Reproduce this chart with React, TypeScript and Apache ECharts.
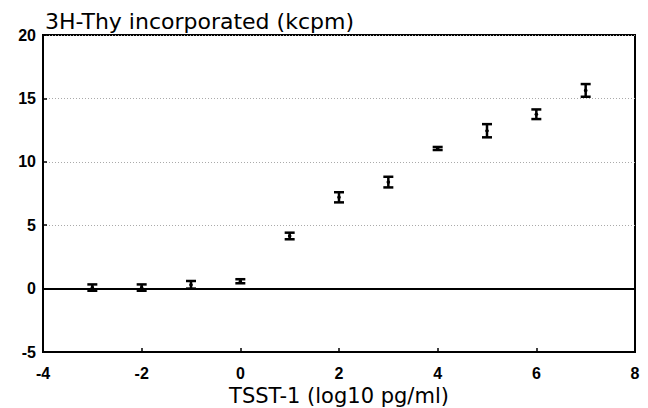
import React, { useEffect, useRef } from "react";
import * as echarts from "echarts";

// log10 TSST-1 dose (pg/ml)
const doses = [-3, -2, -1, 0, 1, 2, 3, 4, 5, 6, 7];
// mean 3H-Thy incorporated (kcpm)
const means = [0.08, 0.08, 0.3, 0.58, 4.15, 7.2, 8.4, 11.05, 12.45, 13.75, 15.63];
// error (± kcpm)
const errors = [0.25, 0.25, 0.3, 0.16, 0.26, 0.4, 0.42, 0.12, 0.52, 0.38, 0.5];

const xTicks = { min: -4, max: 8, interval: 2 };
const yTicks = { min: -5, max: 20, interval: 5 };

const yTitle = "3H-Thy incorporated (kcpm)";
const xTitle = "TSST-1 (log10 pg/ml)";

export default function App() {
  const ref = useRef<HTMLDivElement>(null);
  useEffect(() => {
    if (!ref.current) return;
    const chart = echarts.init(ref.current, null, { renderer: "svg" });
    const data = doses.map((d, i) => [d, means[i] - errors[i], means[i] + errors[i], means[i]]);
    chart.setOption({
      animation: false,
      backgroundColor: "#fff",
      title: {
        text: yTitle,
        left: 40,
        top: 5,
        textStyle: { fontFamily: "DejaVu Sans", fontSize: 22, fontWeight: "normal", color: "#000" },
      },
      grid: {
        left: 43,
        right: 13,
        top: 35,
        bottom: 56,
        outerBoundsMode: "none",
        containLabel: false,
        show: true,
        borderColor: "#000",
        borderWidth: 2,
        backgroundColor: "transparent",
      },
      xAxis: {
        type: "value",
        min: xTicks.min,
        max: xTicks.max,
        interval: xTicks.interval,
        name: xTitle,
        nameLocation: "middle",
        nameGap: 31,
        nameTextStyle: { fontFamily: "DejaVu Sans", fontSize: 21, color: "#000" },
        axisLine: { show: true, onZero: false, lineStyle: { color: "#000", width: 2 } },
        axisTick: { show: true, inside: true, length: 4, lineStyle: { color: "#000", width: 1.5 } },
        axisLabel: {
          margin: 13,
          fontFamily: "Liberation Sans",
          fontWeight: "bold",
          fontSize: 16,
          color: "#000",
        },
        splitLine: { show: false },
      },
      yAxis: {
        type: "value",
        min: yTicks.min,
        max: yTicks.max,
        interval: yTicks.interval,
        axisLine: { show: true, onZero: false, lineStyle: { color: "#000", width: 2 } },
        axisTick: { show: true, inside: true, length: 4, lineStyle: { color: "#000", width: 1.5 } },
        axisLabel: {
          margin: 7,
          fontFamily: "Liberation Sans",
          fontWeight: "bold",
          fontSize: 16,
          color: "#000",
        },
        splitLine: { show: true, lineStyle: { color: "#aaa", type: [1, 2], width: 1 } },
      },
      series: [
        {
          type: "custom",
          data,
          renderItem: (params: any, api: any) => {
            const x = api.value(0);
            const lo = api.coord([x, api.value(1)]);
            const hi = api.coord([x, api.value(2)]);
            const mid = api.coord([x, api.value(3)]);
            const half = 5;
            const style = { stroke: "#000", lineWidth: 2.5 };
            return {
              type: "group",
              children: [
                { type: "line", shape: { x1: hi[0], y1: hi[1], x2: lo[0], y2: lo[1] }, style },
                { type: "line", shape: { x1: hi[0] - half, y1: hi[1], x2: hi[0] + half, y2: hi[1] }, style },
                { type: "line", shape: { x1: lo[0] - half, y1: lo[1], x2: lo[0] + half, y2: lo[1] }, style },
                { type: "circle", shape: { cx: mid[0], cy: mid[1], r: 1.8 }, style: { fill: "#000" } },
              ],
            };
          },
          markLine: {
            silent: true,
            symbol: "none",
            label: { show: false },
            lineStyle: { color: "#000", type: "solid", width: 2 },
            data: [{ yAxis: 0 }],
          },
          z: 3,
        },
      ],
    });
    return () => chart.dispose();
  }, []);
  return (
    <div
      ref={ref}
      style={{ position: "absolute", left: 0, top: 0, width: 648, height: 408 }}
    />
  );
}
